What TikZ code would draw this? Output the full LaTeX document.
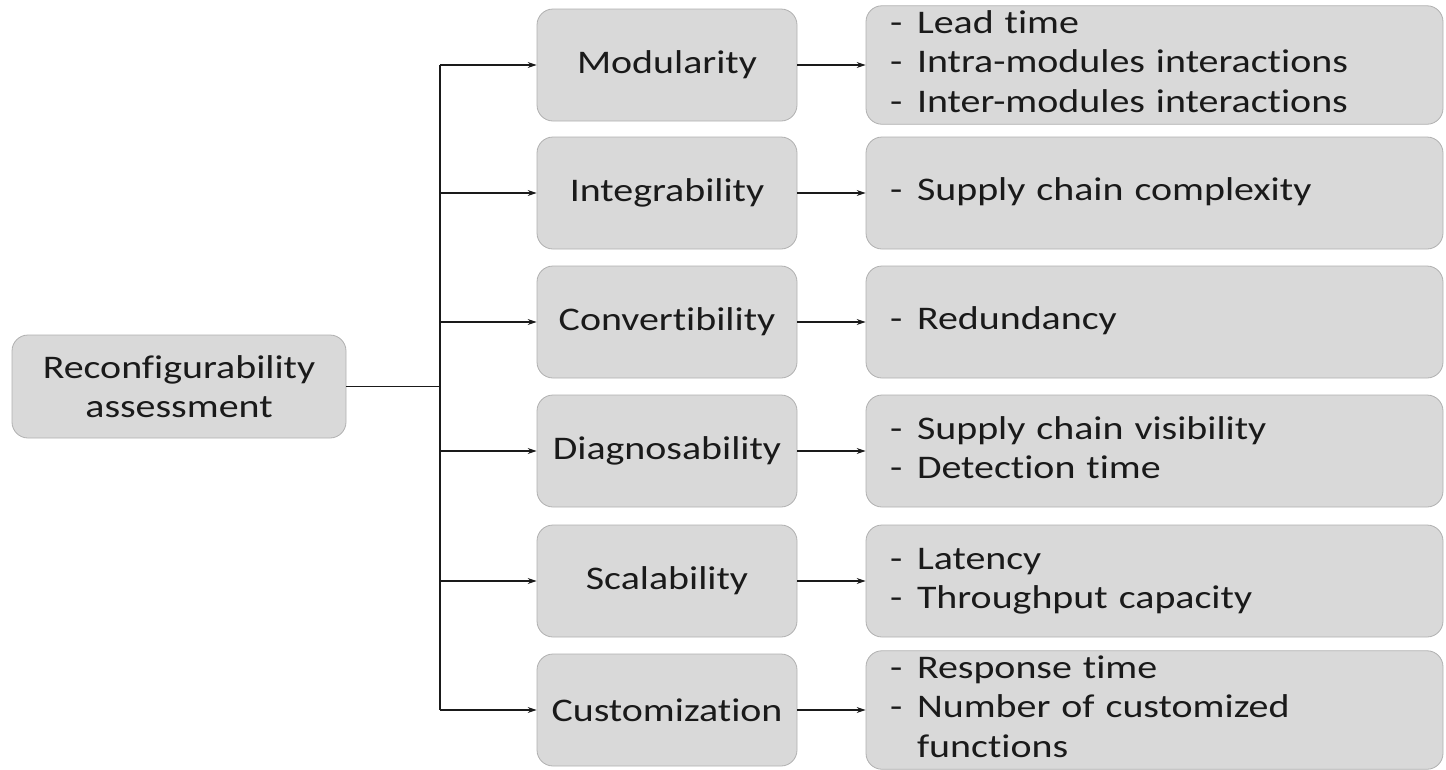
\documentclass[tikz,border=0pt]{standalone}
\usepackage{fontspec}
\setmainfont{Carlito}[FakeStretch=1.21, Ligatures=CommonOff]
\usetikzlibrary{arrows.meta}
\definecolor{boxfill}{HTML}{D9D9D9}
\definecolor{boxline}{HTML}{B0B0B0}
\definecolor{ink}{HTML}{1A1A1A}
\tikzset{
  gbox/.style={draw=boxline, line width=0.8pt, fill=boxfill, rounded corners=16pt,
    text=ink, font=\fontsize{33}{39.5}\selectfont},
  midbox/.style={gbox, minimum width=260pt, minimum height=112pt, align=center, inner sep=0pt},
  rbox/.style={gbox, minimum width=577pt, minimum height=112pt, text width=529pt,
    inner xsep=24pt, inner ysep=0pt, align=left},
  conn/.style={line width=1.1pt, draw=ink},
  arr/.style={conn, -{Stealth[length=9pt,width=6pt]}}
}
\newcommand{\rlist}[1]{\begin{tabular}{@{}p{27pt}@{}l@{}}#1\end{tabular}}
\begin{document}
\begin{tikzpicture}[x=1pt,y=-1pt]
\useasboundingbox (0,0) rectangle (1446,769);
\node[gbox, minimum width=334pt, minimum height=103pt, align=center, inner sep=0pt] (root) at (179,386.5) {Reconfigurability\\assessment};
\coordinate (trunk) at (440,386.5);

\node[midbox] (m1) at (667,65) {Modularity};
\node[midbox] (m2) at (667,193) {Integrability};
\node[midbox] (m3) at (667,322) {Convertibility};
\node[midbox] (m4) at (667,451) {Diagnosability};
\node[midbox] (m5) at (667,581) {Scalability};
\node[midbox] (m6) at (667,710) {Customization};

\node[rbox] (r1) at (1154.5,65) {\rlist{-&Lead time\\-&Intra-modules interactions\\-&Inter-modules interactions}};
\node[rbox] (r2) at (1154.5,193) {\rlist{-&Supply chain complexity}};
\node[rbox] (r3) at (1154.5,322) {\rlist{-&Redundancy}};
\node[rbox] (r4) at (1154.5,451) {\rlist{-&Supply chain visibility\\-&Detection time}};
\node[rbox] (r5) at (1154.5,581) {\rlist{-&Latency\\-&Throughput capacity}};
\node[rbox] (r6) at (1154.5,710) {\rlist{-&Response time\\-&Number of customized\\&functions}};

\draw[conn] (root.east) -- (trunk);
\draw[conn] (trunk |- m1.west) -- (trunk |- m6.west);
\foreach \i in {1,...,6}{
  \draw[arr] (trunk |- m\i.west) -- (m\i.west);
  \draw[arr] (m\i.east) -- (r\i.west);
}
\end{tikzpicture}
\end{document}
